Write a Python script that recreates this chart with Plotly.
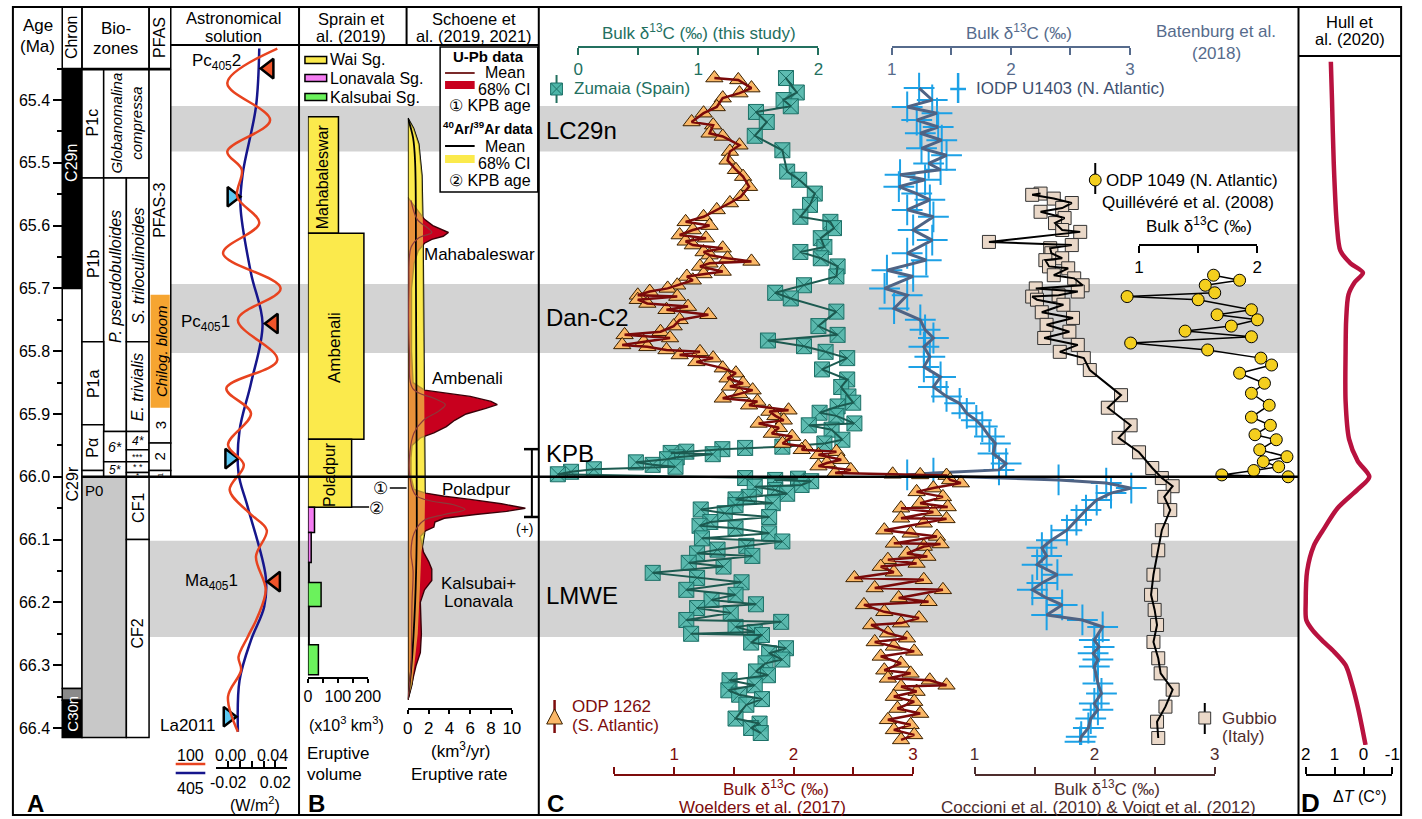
import plotly.graph_objects as go

W, H = 1422, 819
FONT = "Liberation Sans, Arial, Helvetica, sans-serif"


def px(x):
    return x / W


def py(y):
    return 1 - y / H


# ======================= DATA =======================
AGE_RANGE = [66.4271, 65.3124]
KPB_AGE = 66.0

band_names = ["LC29n", "Dan-C2", "LMWE"]
band_top = [65.4096, 65.693, 66.102]
band_bot = [65.482, 65.803, 66.255]

# magnetochrons
chron_top = [65.352, 65.700, 66.337, 66.356]
chron_bot = [65.700, 66.337, 66.356, 66.415]

# biozone cells (column key, top age, bottom age)
bz_col = ["P", "MR", "P", "M", "R", "P", "R", "P", "P", "M", "M", "R", "R", "R", "R",
          "F", "F", "F", "PM", "R", "R"]
bz_top = [65.352, 65.352, 65.524, 65.524, 65.524, 65.785, 65.785, 65.917, 65.990, 65.928,
          65.976, 65.928, 65.957, 65.976, 65.993, 65.352, 65.946, 65.990, 66.000, 66.000, 66.100]
bz_bot = [65.524, 65.524, 65.785, 65.928, 65.785, 65.917, 65.928, 65.990, 66.000, 65.976,
          66.000, 65.957, 65.976, 65.993, 66.000, 65.946, 65.990, 66.000, 66.415, 66.100, 66.415]
bloom_top, bloom_bot = 65.710, 65.890

# astronomical solution (La2011)
astro_red_age = [65.318, 65.373, 65.432, 65.482, 65.511, 65.554, 65.596, 65.644, 65.700, 65.750,
                 65.814, 65.859, 65.899, 65.949, 65.981, 66.021, 66.058, 66.085, 66.127, 66.180,
                 66.223, 66.255, 66.287, 66.308, 66.350, 66.406]
astro_red_val = [0.0416, -0.0008, 0.0355, -0.0008, 0.0115, 0.0076, 0.0263, -0.0044, 0.0444, 0.0082,
                 0.0416, -0.0016, 0.0193, -0.0002, 0.0132, 0.0012, 0.0180, 0.0327, 0.0235, 0.0318,
                 0.0249, 0.0165, 0.0087, 0.0109, -0.0002, 0.0082]
astro_blue_age = [65.318, 65.411, 65.517, 65.570, 65.676, 65.756, 65.851, 65.926, 65.994, 66.048,
                  66.159, 66.207, 66.260, 66.324, 66.406]
astro_blue_val = [0.0063, 0.0035, -0.0077, -0.0096, -0.0007, 0.0091, -0.0007, -0.0104, -0.0113,
                  -0.0035, 0.0118, 0.0105, -0.0007, -0.0104, -0.0118]
red_tri_age = [65.350, 65.756, 66.167]
red_tri_val = [0.0347, 0.0383, 0.0402]
blue_tri_age = [65.554, 65.971, 66.382]
blue_tri_val = [-0.0169, -0.0188, -0.0202]

# Sprain et al. (2019) eruptive volume (x10^3 km3)
sprain_top = [65.4265, 65.6123, 65.9403, 66.0486, 66.0887, 66.1364, 66.1683, 66.2065, 66.2675]
sprain_bot = [65.6123, 65.9403, 66.0486, 66.0887, 66.1364, 66.1683, 66.2065, 66.2675, 66.3153]
sprain_vol = [102, 187, 146, 22, 11, 4, 44, 4, 35]
sprain_grp = ["Wai", "Wai", "Wai", "Lonavala", "Lonavala", "Kalsubai", "Kalsubai", "Kalsubai", "Kalsubai"]

# Schoene et al. eruptive rate (km3/yr)
ar_age = [65.429, 65.445, 65.470, 65.520, 65.600, 65.700, 65.860, 65.950, 66.030, 66.090,
          66.120, 66.180, 66.250, 66.300, 66.330, 66.355]
ar_ci = [0.0, 0.55, 1.05, 1.35, 1.45, 1.50, 1.55, 1.60, 1.65, 1.60, 1.30, 1.15, 0.95, 0.62, 0.40, 0.0]
ar_mean_age = [65.429, 65.460, 65.500, 65.700, 66.000, 66.100, 66.200, 66.300, 66.355]
ar_mean = [0.0, 0.50, 0.70, 0.78, 0.85, 0.85, 0.70, 0.35, 0.0]
upb_age = [65.555, 65.575, 65.590, 65.600, 65.606, 65.611, 65.617, 65.622, 65.628, 65.640,
           65.660, 65.700, 65.800, 65.850, 65.862, 65.866, 65.872, 65.880, 65.885, 65.891,
           65.900, 65.910, 65.920, 65.930, 65.938, 65.950, 65.970, 66.000, 66.020, 66.026,
           66.031, 66.036, 66.043, 66.050, 66.055, 66.060, 66.066, 66.072, 66.080, 66.086,
           66.095, 66.120, 66.135, 66.147, 66.165, 66.180, 66.200, 66.250, 66.280, 66.300,
           66.330, 66.355]
upb_ci = [0.0, 0.9, 1.6, 2.4, 3.2, 3.9, 3.4, 2.3, 1.6, 1.0,
          0.6, 0.35, 0.35, 0.5, 1.6, 3.5, 6.0, 8.0, 8.6, 7.5,
          5.6, 4.5, 3.7, 2.5, 1.2, 0.4, 0.3, 0.3, 0.6, 1.7,
          3.5, 6.0, 9.0, 11.3, 9.5, 6.5, 3.5, 2.6, 2.5, 1.7,
          1.2, 1.5, 2.0, 2.3, 2.3, 1.6, 1.2, 1.3, 1.2, 0.8,
          0.4, 0.0]
upb_mean_age = [65.560, 65.590, 65.605, 65.611, 65.620, 65.635, 65.700, 65.800, 65.860, 65.875,
                65.885, 65.895, 65.910, 65.930, 65.960, 66.000, 66.030, 66.045, 66.052, 66.060,
                66.070, 66.090, 66.120, 66.150, 66.200, 66.300, 66.355]
upb_mean = [0.3, 0.9, 2.0, 2.3, 1.0, 0.3, 0.1, 0.15, 0.5, 2.5,
            3.6, 3.0, 1.5, 0.6, 0.2, 0.2, 0.8, 4.5, 5.5, 3.5,
            1.5, 0.6, 0.3, 0.5, 0.4, 0.3, 0.0]
kpb_err_age = [65.956, 66.064]

# Zumaia (this study), bulk d13C
zum_age = [65.365, 65.388, 65.400, 65.410, 65.419, 65.435, 65.457, 65.480, 65.514, 65.527,
           65.549, 65.567, 65.586, 65.594, 65.604, 65.620, 65.634, 65.642, 65.652, 65.665,
           65.681, 65.695, 65.707, 65.716, 65.737, 65.760, 65.774, 65.783, 65.792, 65.801,
           65.811, 65.829, 65.845, 65.857, 65.872, 65.882, 65.888, 65.898, 65.903, 65.915,
           65.918, 65.925, 65.941, 65.947, 65.952, 65.954, 65.956, 65.960, 65.962, 65.964,
           65.969, 65.972, 65.977, 65.981, 65.984, 65.988, 65.992, 65.996,
           66.002, 66.003, 66.005, 66.007, 66.013, 66.016, 66.021, 66.027, 66.032, 66.036,
           66.042, 66.045, 66.052, 66.058, 66.064, 66.072, 66.078, 66.082, 66.090, 66.098,
           66.103, 66.110, 66.116, 66.122, 66.126, 66.137, 66.143,
           66.153, 66.161, 66.168, 66.180, 66.188, 66.196, 66.203, 66.209, 66.217, 66.228,
           66.231, 66.239, 66.247, 66.250, 66.252, 66.264, 66.273, 66.281, 66.291, 66.297,
           66.310, 66.316, 66.324, 66.332, 66.340, 66.347, 66.354, 66.363, 66.385, 66.393,
           66.400, 66.408]
zum_d13c = [1.73, 1.82, 1.71, 1.77, 1.48, 1.57, 1.47, 1.70, 1.74, 1.84,
            1.97, 1.93, 1.85, 2.10, 2.13, 2.02, 2.05, 1.85, 2.02, 2.16,
            2.15, 1.88, 1.64, 1.77, 2.15, 2.00, 2.16, 1.58, 1.88, 2.06,
            2.24, 2.03, 2.24, 2.19, 2.25, 2.29, 2.16, 2.01, 2.15, 2.30,
            1.92, 2.11, 2.20, 2.05, 1.70, 1.39, 1.20, 0.90, 0.77, 1.12,
            0.82, 0.74, 0.48, 0.62, 0.81, 0.13, -0.06, -0.17,
            1.39, 1.83, 1.64, 1.94, 1.86, 1.47, 1.64, 1.74, 1.42, 1.31,
            1.62, 1.31, 1.02, 1.22, 1.59, 1.10, 1.01, 1.31, 1.59, 1.03,
            1.70, 1.40, 1.16, 0.99, 1.45, 0.92, 1.21,
            0.62, 0.99, 1.36, 0.90, 1.31, 1.11, 1.48, 0.99, 1.27, 0.90,
            1.69, 1.31, 1.47, 0.94, 1.53, 1.44, 1.73, 1.59, 1.70, 1.56,
            1.48, 1.58, 1.26, 1.47, 1.25, 1.34, 1.53, 1.40, 1.31, 1.51,
            1.44, 1.52]

# ODP 1262 (Woelders et al. 2017)
odp1262_age = [65.365, 65.368, 65.381, 65.389, 65.397, 65.411, 65.421, 65.435, 65.440, 65.453,
               65.458, 65.472, 65.482, 65.496, 65.511, 65.522, 65.538, 65.554, 65.564, 65.575,
               65.586, 65.594, 65.600, 65.607, 65.615, 65.620, 65.625, 65.631, 65.636, 65.642,
               65.647, 65.652, 65.657, 65.660, 65.665, 65.673, 65.677, 65.681, 65.687, 65.695,
               65.700, 65.705, 65.711, 65.713, 65.718, 65.724, 65.729, 65.734, 65.742, 65.750,
               65.760, 65.769, 65.774, 65.779, 65.785, 65.790, 65.793, 65.798, 65.801, 65.806,
               65.811, 65.817, 65.827, 65.835, 65.843, 65.851, 65.856, 65.862, 65.868, 65.875,
               65.880, 65.886, 65.894, 65.896, 65.903, 65.910, 65.915, 65.922, 65.931, 65.936,
               65.947, 65.952, 65.957, 65.960, 65.965, 65.973, 65.978, 65.983, 65.989, 65.994,
               65.996, 65.997, 65.998,
               66.005, 66.010, 66.018, 66.024, 66.032, 66.042, 66.048, 66.050, 66.056, 66.066,
               66.067, 66.074, 66.085, 66.090, 66.095, 66.106, 66.107, 66.111, 66.122, 66.127,
               66.132, 66.138, 66.143, 66.152, 66.161, 66.164, 66.177, 66.180, 66.193, 66.199,
               66.204, 66.215, 66.225, 66.233, 66.236, 66.249, 66.257, 66.263, 66.270, 66.278,
               66.286, 66.297, 66.308, 66.313, 66.321, 66.324, 66.332, 66.334, 66.342, 66.350,
               66.358, 66.369, 66.377, 66.387, 66.395, 66.403, 66.411, 66.419]
odp1262_d13c = [1.34, 1.54, 1.65, 1.55, 1.41, 1.36, 1.25, 1.15, 1.33, 1.30,
                1.41, 1.55, 1.47, 1.45, 1.52, 1.58, 1.63, 1.56, 1.47, 1.36,
                1.25, 1.10, 1.30, 1.16, 1.05, 1.27, 1.10, 1.16, 1.41, 1.25,
                1.30, 1.45, 1.65, 1.30, 1.22, 1.41, 1.25, 1.11, 1.16, 1.03,
                0.95, 0.80, 0.70, 1.03, 0.70, 0.78, 1.12, 0.94, 1.29, 1.05,
                1.00, 0.89, 0.59, 0.97, 0.75, 0.57, 0.78, 0.94, 1.22, 1.05,
                1.33, 1.19, 1.41, 1.52, 1.45, 1.58, 1.47, 1.66, 1.55, 1.41,
                1.70, 1.63, 1.96, 1.80, 1.85, 1.92, 1.71, 1.88, 1.82, 1.99,
                1.91, 2.10, 2.07, 2.36, 2.21, 2.40, 2.28, 2.21, 2.48, 2.35,
                2.83, 3.06, 3.28,
                3.31, 3.40, 3.17, 3.03, 3.25, 3.06, 3.29, 2.90, 3.17, 2.90,
                3.28, 3.09, 2.76, 2.98, 3.20, 2.84, 3.23, 3.09, 2.95, 3.12,
                2.79, 3.03, 2.73, 2.84, 2.51, 3.09, 2.68, 3.25, 2.88, 3.13,
                2.59, 2.76, 3.05, 2.90, 2.65, 2.79, 2.95, 2.68, 2.84, 3.01,
                2.73, 2.90, 2.76, 2.98, 2.79, 3.14, 3.28, 2.90, 3.03, 2.84,
                3.01, 2.87, 3.06, 2.79, 2.98, 2.84, 3.01, 2.90]

# IODP U1403 (Batenburg et al. 2018)
u1403_age = [65.381, 65.400, 65.411, 65.421, 65.432, 65.443, 65.453, 65.464, 65.477, 65.488,
             65.501, 65.511, 65.519, 65.527, 65.538, 65.549, 65.559, 65.575, 65.586, 65.607,
             65.623, 65.644, 65.655, 65.671, 65.681, 65.700, 65.711, 65.732, 65.750, 65.766,
             65.779, 65.793, 65.809, 65.825, 65.841, 65.857, 65.872, 65.883, 65.899, 65.910,
             65.920, 65.936, 65.947, 65.963, 65.979, 65.989, 65.994, 65.997,
             66.005, 66.010, 66.018, 66.026, 66.037, 66.053, 66.069, 66.085, 66.101, 66.113,
             66.126, 66.140, 66.156, 66.169, 66.180, 66.193, 66.204, 66.220, 66.228, 66.239,
             66.260, 66.271, 66.281, 66.291, 66.302, 66.329, 66.345, 66.361, 66.371, 66.385,
             66.400, 66.414, 66.422]
u1403_d13c = [1.23, 1.34, 1.13, 1.38, 1.21, 1.39, 1.24, 1.42, 1.25, 1.46,
              1.31, 1.41, 1.07, 1.28, 1.06, 1.21, 1.32, 1.13, 1.35, 1.18,
              1.34, 1.13, 1.29, 0.96, 1.18, 0.94, 1.13, 1.02, 1.24, 1.28,
              1.35, 1.27, 1.32, 1.27, 1.41, 1.35, 1.46, 1.57, 1.63, 1.71,
              1.76, 1.82, 1.87, 1.85, 1.96, 1.90, 1.35, 1.13,
              2.40, 2.80, 3.01, 2.84, 2.72, 2.63, 2.55, 2.47, 2.34, 2.26,
              2.30, 2.22, 2.39, 2.26, 2.18, 2.30, 2.43, 2.30, 2.60, 2.77,
              2.70, 2.74, 2.69, 2.73, 2.70, 2.73, 2.76, 2.70, 2.73, 2.67,
              2.65, 2.59, 2.58]

# Gubbio (Coccioni et al. 2010 & Voigt et al. 2012)
gub_age = [65.549, 65.551, 65.557, 65.564, 65.572, 65.578, 65.588, 65.596, 65.607, 65.610,
           65.626, 65.631, 65.636, 65.644, 65.652, 65.655, 65.665, 65.668, 65.679, 65.684,
           65.695, 65.700, 65.705, 65.711, 65.713, 65.718, 65.726, 65.738, 65.747, 65.758,
           65.769, 65.779, 65.790, 65.801, 65.811, 65.830, 65.870, 65.890, 65.918, 65.938,
           65.961, 65.986, 66.002, 66.015, 66.032, 66.053, 66.085, 66.117, 66.156, 66.188,
           66.212, 66.236, 66.263, 66.289, 66.313, 66.339, 66.366, 66.390, 66.416]
gub_d13c = [1.55, 1.48, 1.66, 1.81, 1.73, 1.55, 1.75, 1.67, 1.73, 1.88,
            1.12, 1.81, 1.63, 1.64, 1.73, 1.59, 1.62, 1.78, 1.66, 1.83,
            1.90, 1.51, 1.86, 1.70, 1.48, 1.52, 1.74, 1.56, 1.82, 1.60,
            1.79, 1.58, 1.86, 1.71, 1.91, 1.96, 2.22, 2.11, 2.30, 2.20,
            2.37, 2.48, 2.56, 2.65, 2.58, 2.63, 2.56, 2.53, 2.49, 2.47,
            2.50, 2.52, 2.49, 2.53, 2.55, 2.65, 2.59, 2.52, 2.53]

# ODP 1049 (Quillévéré et al. 2008)
odp1049_age = [65.679, 65.687, 65.695, 65.707, 65.713, 65.718, 65.734, 65.742, 65.750, 65.760,
               65.768, 65.777, 65.787, 65.798, 65.811, 65.822, 65.835, 65.851, 65.867, 65.886,
               65.905, 65.918, 65.933, 65.941, 65.957, 65.968, 65.976, 65.984, 65.990, 65.997,
               66.000]
odp1049_d13c = [1.63, 1.85, 1.56, 1.64, 0.90, 1.50, 1.95, 1.66, 2.00, 1.78,
                1.39, 1.95, 0.93, 1.58, 2.03, 2.12, 1.85, 2.06, 1.95, 2.10,
                1.95, 2.11, 1.98, 2.16, 2.02, 2.25, 2.05, 2.18, 1.97, 1.70,
                2.26]

# Hull et al. (2020) temperature anomaly
hull_age = [65.339, 65.400, 65.500, 65.600, 65.640, 65.660, 65.675, 65.690, 65.710, 65.750,
            65.800, 65.880, 65.940, 65.975, 66.000, 66.020, 66.050, 66.085, 66.110, 66.150,
            66.200, 66.228, 66.245, 66.262, 66.277, 66.300, 66.330, 66.370, 66.427]
hull_dT = [1.13, 1.09, 1.03, 0.92, 0.80, 0.45, 0.02, 0.30, 0.52, 0.60,
           0.62, 0.62, 0.50, 0.20, -0.20, 0.20, 0.90, 1.40, 1.72, 1.95,
           2.00, 1.98, 1.75, 1.40, 1.05, 0.62, 0.40, 0.18, -0.07]

# ======================= STYLE =======================
TEAL = "#23705f"
SLATE = "#566b8c"
DRED = "#7d0c0c"
BROWN = "#4e2d2d"
GRAY_BAND = "#d3d3d3"
YEL = "#fbea4c"
RED = "#c8001e"

COLS = {"P": (77, 99), "M": (99, 122), "R": (122, 145), "MR": (99, 145),
        "F": (145, 167), "PM": (77, 122)}

shapes = []
annotations = []


def rect(x0, y0, x1, y1, fill="rgba(0,0,0,0)", lc="black", lw=1.5, yref="paper", layer="above"):
    if yref == "paper":
        y0, y1 = py(y0), py(y1)
    shapes.append(dict(type="rect", xref="paper", yref=yref, x0=px(x0), x1=px(x1), y0=y0, y1=y1,
                       fillcolor=fill, line=dict(color=lc, width=lw), layer=layer))


def seg(x0, y0, x1, y1, lc="black", lw=2, yref="paper", layer="above"):
    if yref == "paper":
        y0, y1 = py(y0), py(y1)
    shapes.append(dict(type="line", xref="paper", yref=yref, x0=px(x0), x1=px(x1), y0=y0, y1=y1,
                       line=dict(color=lc, width=lw), layer=layer))


def T(text, x, y, size=17, color="black", xa="center", ya="middle", angle=0, yref="paper"):
    annotations.append(dict(text=text, x=px(x), y=(py(y) if yref == "paper" else y),
                            xref="paper", yref=yref, showarrow=False,
                            font=dict(family=FONT, size=size, color=color),
                            xanchor=xa, yanchor=ya, textangle=angle, borderpad=0))


# ---- gray event bands ----
for name, t, b in zip(band_names, band_top, band_bot):
    x_start = 145 if name == "LMWE" else 167
    rect(x_start, t, 1310, b, fill=GRAY_BAND, lw=0, yref="y", layer="below")

# ---- chron column ----
chron_fill = ["black", "white", "#8a8a8a", "black"]
for t, b, f in zip(chron_top, chron_bot, chron_fill):
    rect(57, t, 77, b, fill=f, lw=1.5, yref="y")
# ---- biozone cells ----
for c, t, b in zip(bz_col, bz_top, bz_bot):
    x0, x1 = COLS[c]
    rect(x0, t, x1, b, fill=("#c8c8c8" if c == "PM" else "white"), lw=1.5, yref="y")
rect(146.5, bloom_top, 166, bloom_bot, fill="#f6a531", lw=0, yref="y")

# ---- frame / header lines ----
rect(7, 7, 1414, 815, lw=2)
for xv in (297, 540, 1310):
    seg(xv, 7, xv, 815, lw=2)
seg(167, 45, 540, 45, lw=2)
seg(406, 7, 406, 45, lw=2)
seg(1310, 56, 1414, 56, lw=2)
rect(57, 7, 77, 68.5, lw=1.5)
rect(77, 7, 145, 68.5, lw=1.5)
rect(145, 7, 167, 68.5, lw=1.5)

# KPB line
seg(77, KPB_AGE, 1310, KPB_AGE, lw=2.5, yref="y")

# ---- panel A annotations ----
T("Age", 32, 25)
T("(Ma)", 32, 46)
T("Chron", 67, 37, size=16, angle=-90)
T("Bio-", 111, 29)
T("zones", 111, 48)
T("PFAS", 156, 37, size=16, angle=-90)
T("Astronomical", 231, 18, size=16.5)
T("solution", 231, 36, size=16.5)
T("C29n", 67, 65.50, size=16, color="white", angle=-90, yref="y")
T("C29r", 67, 66.012, size=16, angle=-90, yref="y")
T("C30n", 67, 66.377, size=15, color="white", angle=-90, yref="y")
T("P1c", 88, 65.436, size=16, angle=-90, yref="y")
T("P1b", 88, 65.66, size=16, angle=-90, yref="y")
T("P1a", 88, 65.851, size=16, angle=-90, yref="y")
T("Pα", 88, 65.954, size=16, angle=-90, yref="y")
T("P0", 89, 66.022, size=15, yref="y")
T("<i>Globanomalina</i><br><i>compressa</i>", 122, 65.437, size=15, angle=-90, yref="y")
T("<i>P. pseudobulloides</i>", 110.5, 65.682, size=16, angle=-90, yref="y")
T("<i>S. triloculinoides</i>", 133.5, 65.663, size=16, angle=-90, yref="y")
T("<i>E. trivialis</i>", 133.5, 65.858, size=16, angle=-90, yref="y")
T("<i>6*</i>", 110.5, 65.952, size=14, yref="y")
T("<i>5*</i>", 110.5, 65.989, size=12, yref="y")
T("<i>4*</i>", 133.5, 65.943, size=12, yref="y")
T("***", 133.5, 65.968, size=9, yref="y")
T("* *", 133.5, 65.985, size=9, yref="y")
T("*", 133.5, 65.998, size=8, yref="y")
T("PFAS-3", 156, 65.575, size=16, angle=-90, yref="y")
T("<i>Chilog. bloom</i>", 157, 65.80, size=15, angle=-90, yref="y")
T("3", 156, 65.918, size=15, angle=-90, yref="y")
T("2", 156, 65.968, size=15, angle=-90, yref="y")
T("1", 156, 65.996, size=8, angle=-90, yref="y")
T("CF1", 133.5, 66.05, size=16, angle=-90, yref="y")
T("CF2", 133.5, 66.25, size=16, angle=-90, yref="y")
T("Pc<sub>405</sub>2", 213, 62)
T("Pc<sub>405</sub>1", 202, 323)
T("Ma<sub>405</sub>1", 208, 582)
T("La2011", 184, 725)
T("100", 187, 755, size=16)
T("405", 187, 788, size=16)
seg(172, 764, 202, 764, lc="#e8431f", lw=2.5)
seg(172, 773, 202, 773, lc="#16168c", lw=2.5)
T("0.00", 228, 755, size=16)
T("0.04", 270, 755, size=16)
T("(W/m<sup>2</sup>)", 252, 804, size=16)
T("<b>A</b>", 30, 803, size=24)

# ---- panel B annotations ----
T("Sprain et", 350, 19, size=16.5)
T("al. (2019)", 350, 36, size=16.5)
T("Schoene et", 474, 19, size=16.5)
T("al. (2019, 2021)", 474, 36, size=16.5)
for yy, col, lab in ((60, YEL, "Wai Sg."), (78, "#f47cf2", "Lonavala Sg."), (97, "#6bf25c", "Kalsubai Sg.")):
    rect(303, yy - 3.5, 325, yy + 3.5, fill=col, lw=1.5)
    T(lab, 327, yy, size=16, xa="left")
T("Mahabaleswar", 321, 65.522, size=16, angle=-90, yref="y")
T("Ambenali", 333, 65.794, size=17, angle=-90, yref="y")
T("Poladpur", 328, 65.996, size=16, angle=-90, yref="y")
T("(x10<sup>3</sup> km<sup>3</sup>)", 345, 724, size=16)
T("Eruptive", 304, 753, size=17, xa="left")
T("volume", 304, 774, size=17, xa="left")
T("<b>B</b>", 315, 803, size=24)
T("Mahabaleswar", 480, 254)
T("Ambenali", 468, 378)
T("Poladpur", 476, 489)
T("Kalsubai+", 479, 583)
T("Lonavala", 479, 601)
T("(km<sup>3</sup>/yr)", 461, 750, size=17)
T("Eruptive rate", 459, 774, size=17)
# Schoene legend
rect(440, 47, 539, 192, fill="white", lw=1.5)
T("<b>U-Pb data</b>", 489, 57, size=15)
seg(445, 73, 475, 73, lc="#7a2a2a", lw=2)
T("Mean", 506, 72, size=16)
rect(445, 81, 475, 89, fill=RED, lw=0)
T("68% CI", 505, 89, size=16)
T("① KPB age", 491, 106, size=16)
T("<b><sup>40</sup>Ar/<sup>39</sup>Ar data</b>", 489, 128, size=14)
seg(445, 146, 475, 146, lc="black", lw=2)
T("Mean", 506, 146, size=16)
rect(445, 155, 475, 163, fill=YEL, lw=0)
T("68% CI", 505, 164, size=16)
T("② KPB age", 491, 180, size=16)
# KPB age markers
T("①", 380, 488, size=17)
seg(389, 488, 406, 488, lw=1.5)
T("②", 376, 508, size=17)
seg(350, 507, 368, 507, lw=1.5)
# KPB error bar
seg(533, kpb_err_age[0], 533, kpb_err_age[1], lw=2, yref="y")
seg(525, kpb_err_age[0], 540, kpb_err_age[0], lw=2.5, yref="y")
seg(525, kpb_err_age[1], 540, kpb_err_age[1], lw=2.5, yref="y")
T("(+)", 526, 529, size=14)

# ---- panel C annotations ----
T("Bulk δ<sup>13</sup>C (‰) (this study)", 702, 32, color=TEAL)
T("Bulk δ<sup>13</sup>C (‰)", 1027, 32, color=SLATE)
T("Batenburg et al.", 1226, 32, color=SLATE)
T("(2018)", 1227, 54, color=SLATE)
T("Zumaia (Spain)", 575, 88, color=TEAL, xa="left")
T("IODP U1403 (N. Atlantic)", 982, 88, color="#3e5070", xa="left")
T("LC29n", 546, 130, size=24, xa="left")
T("Dan-C2", 546, 318, size=24, xa="left")
T("KPB", 546, 453, size=24, xa="left")
T("LMWE", 546, 595, size=24, xa="left")
T("ODP 1049 (N. Atlantic)", 1114, 180, xa="left")
T("Quillévéré et al. (2008)", 1110, 202, xa="left")
T("Bulk δ<sup>13</sup>C (‰)", 1209, 225)
T("ODP 1262", 573, 706, color=DRED, xa="left")
T("(S. Atlantic)", 573, 725, color=DRED, xa="left")
T("Gubbio", 1231, 718, color=BROWN, xa="left")
T("(Italy)", 1231, 736, color=BROWN, xa="left")
T("Bulk δ<sup>13</sup>C (‰)", 780, 788, color=DRED)
T("Woelders et al. (2017)", 767, 807, color=DRED)
T("Bulk δ<sup>13</sup>C (‰)", 1116, 788, color=BROWN)
T("Coccioni et al. (2010) & Voigt et al. (2012)", 1107, 807, color=BROWN)
T("<b>C</b>", 557, 803, size=24)
# legend symbols
seg(558, 75, 558, 103, lc=TEAL, lw=2)
rect(552, 83, 564, 95, fill="#4db5a8", lc="#1d7168", lw=1)
seg(552, 83, 564, 95, lc="#1d7168", lw=1)
seg(552, 95, 564, 83, lc="#1d7168", lw=1)
seg(965, 73, 965, 103, lc="#1da1e6", lw=2.5)
seg(957, 89, 973, 89, lc="#1da1e6", lw=2.5)
seg(1104, 163, 1104, 194, lc="black", lw=2)
shapes.append(dict(type="circle", xref="paper", yref="paper", x0=px(1098), x1=px(1110),
                   y0=py(186), y1=py(174), fillcolor="#f4cf1e", line=dict(color="black", width=1)))
seg(556, 700, 556, 733, lc=DRED, lw=2.5)
shapes.append(dict(type="path", xref="paper", yref="paper",
                   path=f"M {px(548)},{py(724)} L {px(564)},{py(724)} L {px(556)},{py(709)} Z",
                   fillcolor="#fbb867", line=dict(color="#3a2000", width=1)))
seg(1215, 703, 1215, 734, lc="black", lw=2)
rect(1209, 712, 1221, 724, fill="#ead8c8", lc="#333333", lw=1)

# ---- panel D annotations ----
T("Hull et", 1362, 22, size=16.5)
T("al. (2020)", 1362, 39, size=16.5)
T("<b>D</b>", 1322, 803, size=26)
T("Δ<i>T</i> (C°)", 1372, 796, size=16)

# ======================= TRACES =======================
traces = []

# astronomical solution
traces.append(go.Scatter(x=astro_blue_val, y=astro_blue_age, xaxis="x", yaxis="y", mode="lines",
                         line=dict(color="#16168c", width=2.5, shape="spline")))
traces.append(go.Scatter(x=astro_red_val, y=astro_red_age, xaxis="x2", yaxis="y", mode="lines",
                         line=dict(color="#e8431f", width=2.5, shape="spline", smoothing=1.0)))
traces.append(go.Scatter(x=red_tri_val, y=red_tri_age, xaxis="x2", yaxis="y", mode="markers",
                         cliponaxis=False,
                         marker=dict(symbol="triangle-left", size=17, color="#f0542a",
                                     line=dict(color="black", width=2.5))))
traces.append(go.Scatter(x=blue_tri_val, y=blue_tri_age, xaxis="x", yaxis="y", mode="markers",
                         cliponaxis=False,
                         marker=dict(symbol="triangle-right", size=17, color="#5cc8f2",
                                     line=dict(color="black", width=2.5))))

# Sprain bars
grp_colors = {"Wai": YEL, "Lonavala": "#f47cf2", "Kalsubai": "#6bf25c"}
for g, colr in grp_colors.items():
    idx = [i for i, gg in enumerate(sprain_grp) if gg == g]
    traces.append(go.Bar(
        x=[sprain_vol[i] for i in idx],
        y=[(sprain_top[i] + sprain_bot[i]) / 2 for i in idx],
        width=[sprain_bot[i] - sprain_top[i] for i in idx],
        base=0, orientation="h", xaxis="x3", yaxis="y",
        marker=dict(color=colr, line=dict(color="black", width=1.5))))

# Schoene eruptive rate
traces.append(go.Scatter(x=ar_ci, y=ar_age, xaxis="x4", yaxis="y", mode="lines", fill="tozerox",
                         fillcolor=YEL, line=dict(color="black", width=1.6)))
traces.append(go.Scatter(x=upb_ci, y=upb_age, xaxis="x4", yaxis="y", mode="lines", fill="tozerox",
                         fillcolor=RED, line=dict(color="#3a0008", width=1.4)))
traces.append(go.Scatter(x=ar_ci, y=ar_age, xaxis="x4", yaxis="y", mode="lines", fill="tozerox",
                         fillcolor="rgba(251,234,76,0.62)", line=dict(width=0)))
traces.append(go.Scatter(x=[0, 0], y=[ar_age[0], ar_age[-1]], xaxis="x4", yaxis="y", mode="lines",
                         line=dict(color="black", width=1.6)))
traces.append(go.Scatter(x=ar_mean, y=ar_mean_age, xaxis="x4", yaxis="y", mode="lines",
                         line=dict(color="black", width=1.8, shape="spline")))
traces.append(go.Scatter(x=upb_mean, y=upb_mean_age, xaxis="x4", yaxis="y", mode="lines",
                         line=dict(color="#8b3a3a", width=1.2, shape="spline")))

# Zumaia
traces.append(go.Scatter(x=zum_d13c, y=zum_age, xaxis="x6", yaxis="y", mode="markers",
                         marker=dict(symbol="square-x", size=15, color="rgba(77,181,168,0.9)",
                                     line=dict(color="#1d7168", width=1))))
traces.append(go.Scatter(x=zum_d13c, y=zum_age, xaxis="x6", yaxis="y", mode="lines",
                         line=dict(color="#1c5a50", width=2)))
# U1403
traces.append(go.Scatter(x=u1403_d13c, y=u1403_age, xaxis="x8", yaxis="y", mode="markers",
                         marker=dict(symbol="cross-thin", size=22, color="#1da1e6",
                                     line=dict(color="#1da1e6", width=2))))
traces.append(go.Scatter(x=u1403_d13c, y=u1403_age, xaxis="x8", yaxis="y", mode="lines",
                         line=dict(color="#4f6384", width=3)))
# ODP 1262
traces.append(go.Scatter(x=odp1262_d13c, y=odp1262_age, xaxis="x10", yaxis="y", mode="markers",
                         marker=dict(symbol="triangle-up", size=15, color="#fbb867",
                                     line=dict(color="#3a2000", width=1))))
traces.append(go.Scatter(x=odp1262_d13c, y=odp1262_age, xaxis="x10", yaxis="y", mode="lines",
                         line=dict(color="#7a0a0a", width=2.5)))
# Gubbio
traces.append(go.Scatter(x=gub_d13c, y=gub_age, xaxis="x12", yaxis="y", mode="markers",
                         marker=dict(symbol="square", size=13, color="#ead8c8",
                                     line=dict(color="#333333", width=1))))
traces.append(go.Scatter(x=gub_d13c, y=gub_age, xaxis="x12", yaxis="y", mode="lines",
                         line=dict(color="black", width=2)))
# ODP 1049
traces.append(go.Scatter(x=odp1049_d13c, y=odp1049_age, xaxis="x14", yaxis="y", mode="lines+markers",
                         line=dict(color="black", width=1.5),
                         marker=dict(symbol="circle", size=12, color="#f4cf1e",
                                     line=dict(color="black", width=1))))
# Hull
traces.append(go.Scatter(x=hull_dT, y=hull_age, xaxis="x16", yaxis="y", mode="lines",
                         line=dict(color="#b8123f", width=4.5, shape="spline", smoothing=0.8)))

# dummy traces so that display-only axes are drawn
for ax, r0 in (("x5", 0), ("x7", 0), ("x9", 1), ("x11", 1), ("x13", 1), ("x15", 1), ("x17", 0)):
    traces.append(go.Scatter(x=[r0], y=[66.9], xaxis=ax, yaxis="y", mode="markers",
                             marker=dict(opacity=0), hoverinfo="skip"))

fig = go.Figure(data=traces)


def hidden_axis(x0, x1, rng):
    return dict(domain=[px(x0), px(x1)], range=rng, anchor="free", position=0, visible=False,
                showgrid=False, zeroline=False, fixedrange=True)


def shown_axis(x0, x1, rng, ypix, side, tickvals, color, minor_dtick=None, minor_tick0=None,
               ticklen=8, ticks="outside", fs=17):
    ax = dict(domain=[px(x0), px(x1)], range=rng, anchor="free", position=py(ypix), side=side,
              showline=True, linecolor=color, linewidth=2, ticks=ticks, ticklen=ticklen,
              tickwidth=2, tickcolor=color, tickmode="array", tickvals=tickvals,
              ticktext=[f"{v:g}" for v in tickvals],
              tickfont=dict(family=FONT, size=fs, color=color), showgrid=False, zeroline=False,
              fixedrange=True)
    if minor_dtick is not None:
        ax["minor"] = dict(tickmode="linear", tick0=minor_tick0, dtick=minor_dtick, ticks=ticks,
                           ticklen=ticklen, tickwidth=2, tickcolor=color, showgrid=False)
    return ax


axes = {
    "xaxis": shown_axis(213.3, 285, [-0.03, 0.03], 768, "bottom", [-0.02, 0.02], "black",
                        minor_dtick=0.01, minor_tick0=-0.03, ticklen=6, ticks="inside", fs=16),
    "xaxis2": dict(overlaying="x", range=[-0.01, 0.05], visible=False, anchor="free",
                   position=py(768), showgrid=False, zeroline=False),
    "xaxis3": shown_axis(306, 366.7, [0, 200], 678, "bottom", [0, 100, 200], "black",
                         minor_dtick=50, minor_tick0=0, ticklen=4, fs=16),
    "xaxis4": hidden_axis(407.3, 540, [0, 12.59]),
    "xaxis5": shown_axis(407.3, 512.7, [0, 10], 709, "bottom", [0, 2, 4, 6, 8, 10], "black",
                         ticklen=4),
    "xaxis6": hidden_axis(540, 1310, [-0.3287, 5.9984]),
    "xaxis7": shown_axis(580, 823.4, [0, 2], 47, "bottom", [0, 1, 2], TEAL,
                         minor_dtick=0.5, minor_tick0=0, ticklen=7),
    "xaxis8": hidden_axis(540, 1310, [-1.961, 4.413]),
    "xaxis9": shown_axis(897.7, 1139.3, [1, 3], 47, "bottom", [1, 2, 3], SLATE,
                         minor_dtick=0.5, minor_tick0=1, ticklen=7),
    "xaxis10": hidden_axis(540, 1310, [-0.127, 6.221]),
    "xaxis11": shown_axis(616.7, 919.3, [0.5, 3], 775, "top", [1, 2, 3], DRED,
                          minor_dtick=0.5, minor_tick0=0.5, ticklen=7),
    "xaxis12": hidden_axis(540, 1310, [-2.629, 3.698]),
    "xaxis13": shown_axis(981.7, 1225, [1, 3], 775, "top", [1, 2, 3], BROWN,
                          minor_dtick=0.5, minor_tick0=1, ticklen=7),
    "xaxis14": hidden_axis(540, 1310, [-4.069, 2.3475]),
    "xaxis15": shown_axis(1148.3, 1268.3, [1, 2], 245, "bottom", [1, 2], "black",
                          minor_dtick=0.5, minor_tick0=1, ticklen=7),
    "xaxis16": hidden_axis(1310, 1414, [2.249, -1.300]),
    "xaxis17": shown_axis(1317.3, 1405.2, [2, -1], 775, "top", [2, 1, 0, -1], "black", ticklen=7),
}

fig.update_layout(
    width=W, height=H, autosize=False,
    margin=dict(l=0, r=0, t=0, b=0),
    paper_bgcolor="white", plot_bgcolor="rgba(0,0,0,0)",
    showlegend=False, barmode="overlay",
    font=dict(family=FONT, color="black"),
    yaxis=dict(domain=[py(745), py(45)], range=AGE_RANGE, anchor="free", position=px(57),
               side="left", tickmode="linear", tick0=65.4, dtick=0.1, tickformat=".1f",
               ticks="outside", ticklen=9, tickwidth=2, tickcolor="black",
               minor=dict(tick0=65.35, dtick=0.05, ticks="outside", ticklen=5, tickwidth=2,
                          tickcolor="black"),
               showline=False, showgrid=False, zeroline=False,
               tickfont=dict(family=FONT, size=16), fixedrange=True),
    shapes=shapes,
    annotations=annotations,
    **axes,
)

fig.write_html("out.html", config={"displayModeBar": False},
               post_script="document.body.style.margin='0px';")
